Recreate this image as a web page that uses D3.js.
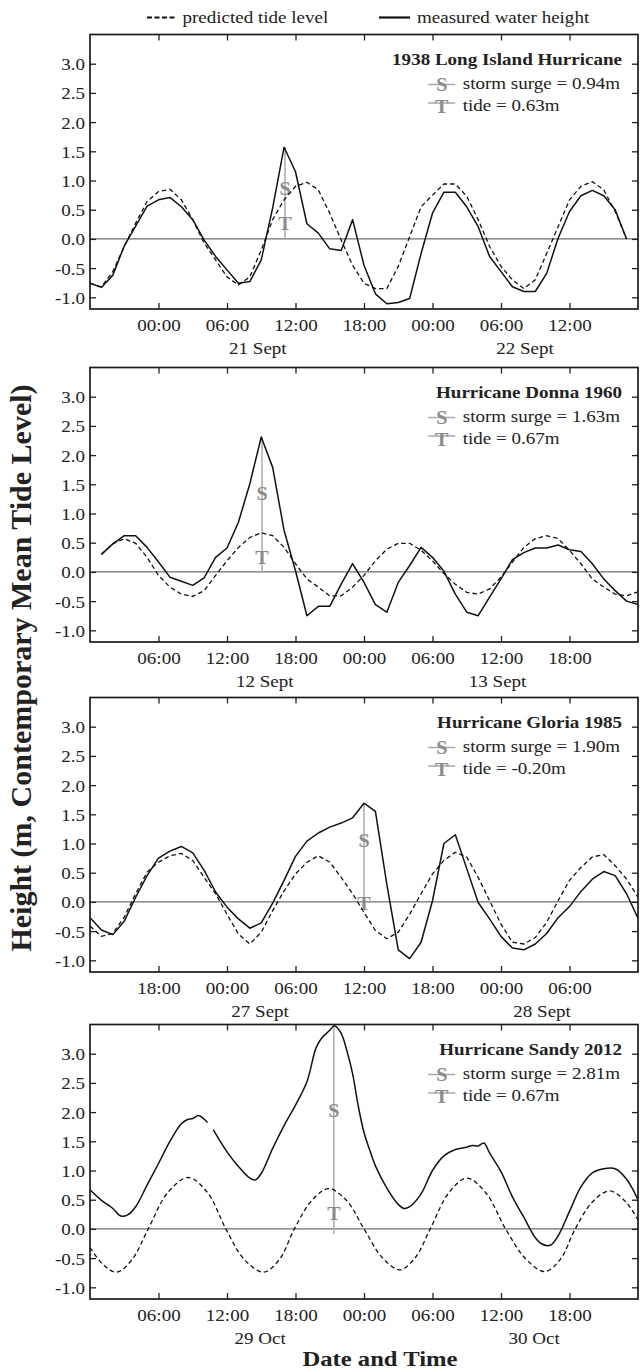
<!DOCTYPE html>
<html><head><meta charset="utf-8">
<script src="https://cdn.jsdelivr.net/npm/d3@7"></script>
<style>
body{margin:0;background:#fff}
svg{display:block}
text{font-family:"Liberation Serif","Times New Roman",serif;fill:#222}
</style>
</head><body>
<svg id="c" width="644" height="1371"></svg>
<script>
// ---------------- DATA ----------------
const yTickValues = [-1, -0.5, 0, 0.5, 1, 1.5, 2, 2.5, 3];
const yTickLabels = ["-1.0","-0.5","0.0","0.5","1.0","1.5","2.0","2.5","3.0"];
const xTickHours = [6, 12, 18, 24, 30, 36, 42];

// Panel 1 : 1938 Long Island Hurricane (hours from 18:00, 20 Sept)
const p1Hours = [0,1,2,3,4,5,6,7,8,9,10,11,12,13,14,15,16,17,18,19,20,21,22,23,24,25,26,27,28,29,30,31,32,33,34,35,36,37,38,39,40,41,42,43,44,45,46,47];
const p1Measured = [-0.76,-0.83,-0.62,-0.12,0.22,0.56,0.67,0.71,0.55,0.33,-0.02,-0.30,-0.53,-0.76,-0.73,-0.36,0.53,1.57,1.15,0.26,0.10,-0.17,-0.20,0.33,-0.45,-0.94,-1.11,-1.09,-1.02,-0.25,0.44,0.80,0.80,0.55,0.21,-0.30,-0.56,-0.82,-0.90,-0.90,-0.59,0.01,0.47,0.74,0.83,0.74,0.50,0.00];
const p1Predicted = [-0.76,-0.82,-0.56,-0.13,0.27,0.64,0.81,0.85,0.67,0.33,-0.07,-0.36,-0.65,-0.79,-0.65,-0.19,0.33,0.67,0.90,0.97,0.84,0.44,-0.02,-0.45,-0.76,-0.85,-0.85,-0.47,0.04,0.55,0.75,0.94,0.94,0.73,0.33,-0.13,-0.47,-0.70,-0.85,-0.70,-0.25,0.21,0.67,0.90,0.98,0.84,0.47,0.00];
const p1TickLabels = ["00:00","06:00","12:00","18:00","00:00","06:00","12:00"];
const p1Dates = ["21 Sept","22 Sept"];
const p1DateHours = [14.7, 38.1];

// Panel 2 : Hurricane Donna 1960 (hours from 00:00, 12 Sept)
const p2Hours = [1,2,3,4,5,6,7,8,9,10,11,12,13,14,15,16,17,18,19,20,21,22,23,24,25,26,27,28,29,30,31,32,33,34,35,36,37,38,39,40,41,42,43,44,45,46,47,48];
const p2Measured = [0.30,0.48,0.62,0.62,0.42,0.17,-0.09,-0.16,-0.23,-0.10,0.25,0.41,0.85,1.51,2.31,1.79,0.71,0.02,-0.75,-0.59,-0.59,-0.21,0.14,-0.18,-0.56,-0.69,-0.18,0.11,0.42,0.25,0.01,-0.38,-0.69,-0.75,-0.43,-0.12,0.21,0.33,0.41,0.41,0.46,0.38,0.35,0.14,-0.12,-0.32,-0.50,-0.56];
const p2Predicted = [0.30,0.48,0.57,0.49,0.25,-0.06,-0.26,-0.38,-0.42,-0.32,-0.06,0.19,0.42,0.59,0.67,0.62,0.42,0.14,-0.12,-0.26,-0.41,-0.41,-0.26,-0.06,0.19,0.39,0.49,0.49,0.37,0.19,-0.03,-0.21,-0.35,-0.38,-0.29,-0.09,0.17,0.42,0.57,0.62,0.57,0.37,0.14,-0.12,-0.26,-0.38,-0.41,-0.34];
const p2TickLabels = ["06:00","12:00","18:00","00:00","06:00","12:00","18:00"];
const p2Dates = ["12 Sept","13 Sept"];
const p2DateHours = [15.3, 35.7];

// Panel 3 : Hurricane Gloria 1985 (hours from 12:00, 26 Sept)
const p3Hours = [0,1,2,3,4,5,6,7,8,9,10,11,12,13,14,15,16,17,18,19,20,21,22,23,24,25,26,27,28,29,30,31,32,33,34,35,36,37,38,39,40,41,42,43,44,45,46,47,48];
const p3Measured = [-0.27,-0.48,-0.56,-0.33,0.08,0.45,0.75,0.87,0.95,0.84,0.54,0.17,-0.09,-0.29,-0.45,-0.36,-0.02,0.37,0.78,1.04,1.18,1.28,1.35,1.44,1.69,1.55,0.30,-0.82,-0.97,-0.69,0.02,1.00,1.15,0.57,-0.01,-0.29,-0.59,-0.79,-0.82,-0.72,-0.54,-0.27,-0.08,0.18,0.39,0.52,0.45,0.14,-0.28];
const p3Predicted = [-0.41,-0.59,-0.54,-0.26,0.14,0.51,0.68,0.79,0.83,0.71,0.42,0.14,-0.21,-0.55,-0.72,-0.52,-0.15,0.19,0.48,0.68,0.79,0.68,0.42,0.14,-0.18,-0.49,-0.63,-0.52,-0.21,0.14,0.48,0.71,0.85,0.77,0.42,0.02,-0.38,-0.69,-0.72,-0.61,-0.35,0.02,0.37,0.59,0.77,0.81,0.62,0.39,0.08];
const p3TickLabels = ["18:00","00:00","06:00","12:00","18:00","00:00","06:00"];
const p3Dates = ["27 Sept","28 Sept"];
const p3DateHours = [14.9, 39.6];

// Panel 4 : Hurricane Sandy 2012 (hours from 00:00, 29 Oct) - null = gap in record
const p4MeasuredHours = [0,1,2,2.7,3.3,4,5,6,7,8,8.5,9,9.5,10,10.3,10.5,10.8,11,12,13,14,14.5,15,16,17,18,19,19.8,20.3,21,21.4,22,22.5,23,23.5,24,24.5,25,26,27,27.5,28,29,30,31,32,33,33.5,34,34.5,35,36,37,38,39,39.5,40.3,41,42,43,44,45,46,47,48];
const p4Measured = [0.67,0.49,0.35,0.22,0.24,0.38,0.75,1.12,1.50,1.80,1.87,1.89,1.94,1.88,1.82,null,1.70,1.63,1.32,1.07,0.87,0.84,0.95,1.38,1.77,2.12,2.52,3.10,3.27,3.40,3.48,3.35,3.05,2.66,2.10,1.65,1.35,1.08,0.70,0.42,0.35,0.38,0.60,1.00,1.25,1.36,1.40,1.43,1.42,1.47,1.30,0.98,0.55,0.20,-0.15,-0.25,-0.28,-0.12,0.30,0.72,0.96,1.03,1.03,0.85,0.50];
const p4PredictedHours = [0,1.2,2.35,3.7,5.1,6.8,8.6,10.3,11.9,13.5,15.2,16.6,17.9,19.4,20.9,22.5,24.0,25.6,27.15,28.5,29.8,31.4,33.0,34.7,36.4,38.2,39.85,41.2,42.5,44.0,45.5,47.0,48.0];
const p4Predicted = [-0.32,-0.62,-0.74,-0.52,0.0,0.62,0.88,0.62,0.0,-0.52,-0.74,-0.52,0.0,0.48,0.69,0.48,0.0,-0.49,-0.70,-0.49,0.0,0.61,0.87,0.61,0.0,-0.52,-0.73,-0.52,0.0,0.46,0.65,0.45,0.15];
const p4TickLabels = ["06:00","12:00","18:00","00:00","06:00","12:00","18:00"];
const p4Dates = ["29 Oct","30 Oct"];
const p4DateHours = [14.9, 38.9];

const titles = ["1938 Long Island Hurricane","Hurricane Donna 1960","Hurricane Gloria 1985","Hurricane Sandy 2012"];
const surgeLabels = ["storm surge = 0.94m","storm surge = 1.63m","storm surge = 1.90m","storm surge = 2.81m"];
const tideLabels = ["tide = 0.63m","tide = 0.67m","tide = -0.20m","tide = 0.67m"];
const stormHour = [17.08, 15.07, 24.0, 21.36];
const stormBase = [0, 0, -0.12, -0.09];
const stormPeak = [1.57, 2.31, 1.69, 3.48];
const sLabelLevel = [0.87, 1.34, 1.06, 2.03];
const tLabelLevel = [0.26, 0.25, -0.02, 0.26];

// ---------------- BUILD ----------------
const zip = (h, v) => h.map((t, i) => ({t, v: v[i]}));
const panels = [
  {meas: zip(p1Hours,p1Measured), pred: zip(p1Hours,p1Predicted), ticks: p1TickLabels, dates: p1Dates, dateH: p1DateHours, smooth:false},
  {meas: zip(p2Hours,p2Measured), pred: zip(p2Hours,p2Predicted), ticks: p2TickLabels, dates: p2Dates, dateH: p2DateHours, smooth:false},
  {meas: zip(p3Hours,p3Measured), pred: zip(p3Hours,p3Predicted), ticks: p3TickLabels, dates: p3Dates, dateH: p3DateHours, smooth:false},
  {meas: zip(p4MeasuredHours,p4Measured), pred: zip(p4PredictedHours,p4Predicted), ticks: p4TickLabels, dates: p4Dates, dateH: p4DateHours, smooth:true}
];

const svg = d3.select("#c");
const SX = 1.12;
const left = 90, right = 638, ph = 274.5;
const tops = [34.5, 367.5, 697.5, 1024.5];
const DASH = "4.5,3";

function txt(g, x, y, s, size, anchor, weight, fill){
  return g.append("text")
    .attr("transform", `translate(${x},${y}) scale(${SX},1)`)
    .attr("text-anchor", anchor || "start")
    .style("font-size", size + "px")
    .style("font-weight", weight || "normal")
    .style("fill", fill || "#222")
    .text(s);
}

// top legend
const lg = svg.append("g");
lg.append("line").attr("x1",147).attr("x2",175).attr("y1",17.5).attr("y2",17.5)
  .attr("stroke","#111").attr("stroke-width",2).attr("stroke-dasharray","5,2.5");
txt(lg, 182.5, 22.7, "predicted tide level", 17);
lg.append("line").attr("x1",379).attr("x2",410).attr("y1",17.5).attr("y2",17.5)
  .attr("stroke","#111").attr("stroke-width",2.2);
txt(lg, 417, 22.7, "measured water height", 17);

panels.forEach((p, i) => {
  const top = tops[i], bottom = top + ph;
  const x = d3.scaleLinear().domain([0, 48]).range([left, right]);
  const y = d3.scaleLinear().domain([-1.2, 3.5]).range([bottom, top]);
  const g = svg.append("g");

  g.append("clipPath").attr("id", "clip" + i)
    .append("rect").attr("x", left).attr("y", top).attr("width", right - left).attr("height", ph);

  // zero line
  g.append("line").attr("x1", left).attr("x2", right).attr("y1", y(0)).attr("y2", y(0))
    .attr("stroke", "#6f6f6f").attr("stroke-width", 1.1);

  // storm vertical marker
  g.append("line").attr("x1", x(stormHour[i])).attr("x2", x(stormHour[i]))
    .attr("y1", y(stormBase[i])).attr("y2", y(stormPeak[i]))
    .attr("stroke", "#b0b0b0").attr("stroke-width", 1.6);
  txt(g, x(stormHour[i]), y(sLabelLevel[i]) + 6.5, "S", 18, "middle", "bold", "#8c8c8c");
  txt(g, x(stormHour[i]), y(tLabelLevel[i]) + 6.5, "T", 18, "middle", "bold", "#8c8c8c");

  const curve = p.smooth ? d3.curveCatmullRom : d3.curveLinear;
  const line = d3.line().defined(d => d.v != null).x(d => x(d.t)).y(d => y(d.v)).curve(curve);
  const lines = g.append("g").attr("clip-path", `url(#clip${i})`);
  lines.append("path").datum(p.pred).attr("d", line).attr("fill", "none")
    .attr("stroke", "#111").attr("stroke-width", 1.3).attr("stroke-dasharray", DASH);
  lines.append("path").datum(p.meas).attr("d", line).attr("fill", "none")
    .attr("stroke", "#111").attr("stroke-width", 1.5).attr("stroke-linejoin", "round");

  // axes (inward ticks)
  const ax = g.append("g").attr("transform", `translate(0,${bottom})`)
    .call(d3.axisBottom(x).tickValues(xTickHours).tickFormat((d, k) => p.ticks[k]).tickSize(-6).tickSizeOuter(0));
  ax.select(".domain").remove();
  ax.selectAll("line").attr("stroke", "#222").attr("stroke-width", 1.3);
  ax.selectAll("text").attr("y", null).attr("dy", null)
    .attr("transform", `translate(0,21.5) scale(${SX},1)`)
    .style("font-size", "17px").style("font-family", '"Liberation Serif",serif').attr("fill", "#222");

  const axT = g.append("g").attr("transform", `translate(0,${top})`)
    .call(d3.axisTop(x).tickValues(xTickHours).tickFormat("").tickSize(-6).tickSizeOuter(0));
  axT.select(".domain").remove();
  axT.selectAll("line").attr("stroke", "#222").attr("stroke-width", 1.3);

  const ay = g.append("g").attr("transform", `translate(${left},0)`)
    .call(d3.axisLeft(y).tickValues(yTickValues).tickFormat((d, k) => yTickLabels[k]).tickSize(-6).tickSizeOuter(0));
  ay.select(".domain").remove();
  ay.selectAll("line").attr("stroke", "#222").attr("stroke-width", 1.3);
  ay.selectAll("text").attr("x", null).attr("dy", null)
    .attr("transform", `translate(-5,6) scale(${SX},1)`)
    .style("font-size", "17px").style("font-family", '"Liberation Serif",serif').attr("fill", "#222");

  const ayR = g.append("g").attr("transform", `translate(${right},0)`)
    .call(d3.axisRight(y).tickValues(yTickValues).tickFormat("").tickSize(-6).tickSizeOuter(0));
  ayR.select(".domain").remove();
  ayR.selectAll("line").attr("stroke", "#222").attr("stroke-width", 1.3);

  // date labels
  p.dates.forEach((d, k) => txt(g, x(p.dateH[k]), bottom + 45, d, 17, "middle"));

  // frame
  g.append("rect").attr("x", left).attr("y", top).attr("width", right - left).attr("height", ph)
    .attr("fill", "none").attr("stroke", "#1a1a1a").attr("stroke-width", 1.7);

  // title + legend
  txt(g, 622, top + 30.5, titles[i], 17, "end", "bold");
  const sT = txt(g, 620, top + 54, surgeLabels[i], 17, "end");
  const w = sT.node().getComputedTextLength() * SX;
  const tx = 620 - w;
  txt(g, tx, top + 76.5, tideLabels[i], 17, "start");
  const sx = tx - 21;
  [[top + 50, "S", top + 56], [top + 68.5, "T", top + 78.5]].forEach(([ly, ch, by]) => {
    g.append("line").attr("x1", sx - 13.5).attr("x2", sx + 13.5).attr("y1", ly).attr("y2", ly)
      .attr("stroke", "#a8a8a8").attr("stroke-width", 1.5);
    txt(g, sx, by, ch, 18, "middle", "bold", "#8c8c8c");
  });
});

// axis titles
txt(svg, 380, 1365.5, "Date and Time", 22, "middle", "bold");
svg.append("text")
  .attr("transform", `translate(31,668) rotate(-90)`)
  .attr("text-anchor", "middle")
  .style("font-size", "30px").style("font-weight", "bold")
  .text("Height (m, Contemporary Mean Tide Level)");
</script>
</body></html>
